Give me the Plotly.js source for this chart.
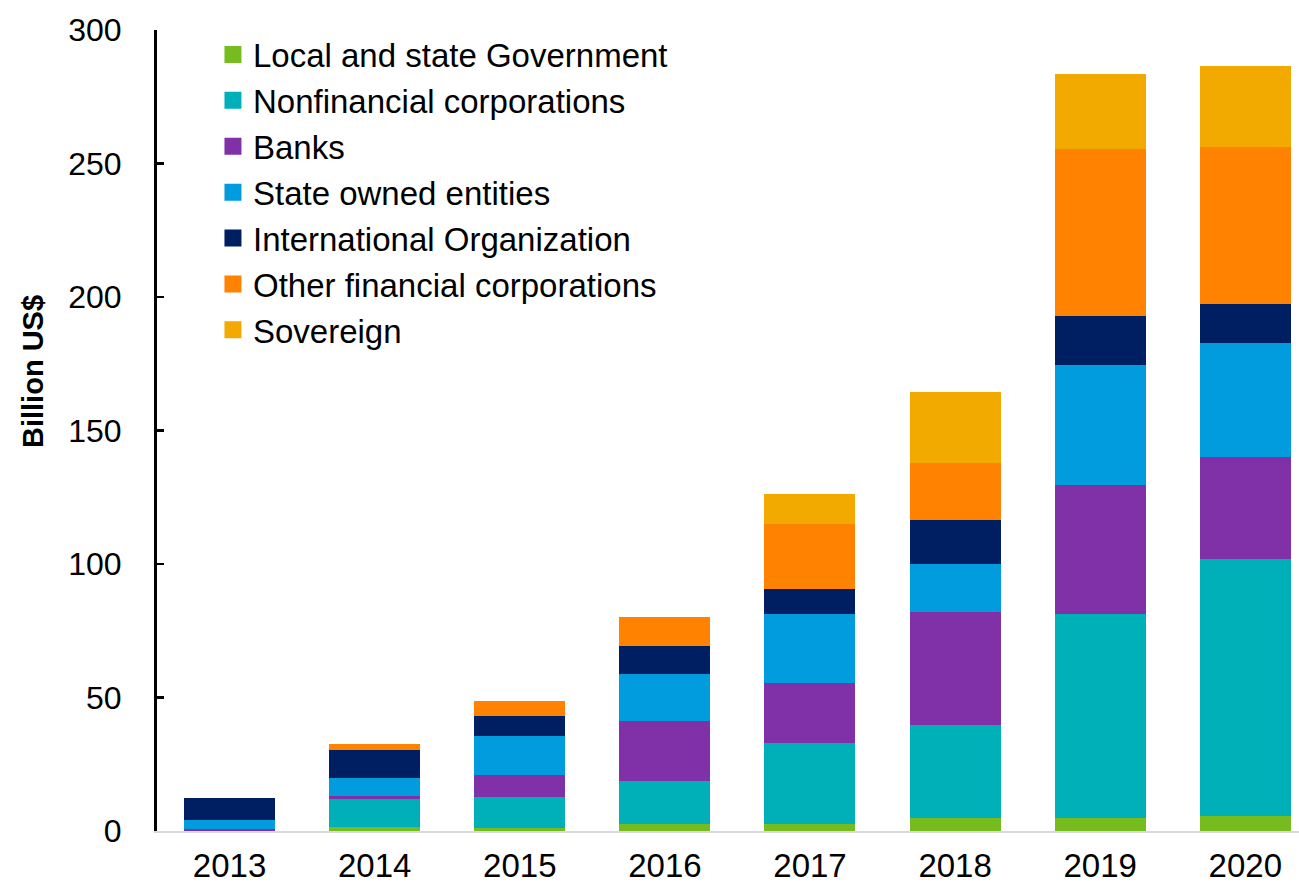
<!DOCTYPE html>
<html>
<head>
<meta charset="utf-8">
<script src="https://cdn.plot.ly/plotly-3.0.1.min.js"></script>
<style>html,body{margin:0;padding:0;background:#fff;}#chart{width:1299px;height:888px;}</style>
</head>
<body>
<div id="chart"></div>
<script>
const years = ['2013','2014','2015','2016','2017','2018','2019','2020'];
const seriesNames = ['Local and state Government','Nonfinancial corporations','Banks','State owned entities','International Organization','Other financial corporations','Sovereign'];
const localGov   = [0,   1.6,  1.0,  2.8,  2.8,  5.0,  5.0,  5.6];
const nonfin     = [0,  10.4, 11.6, 15.8, 30.2, 34.6, 76.3, 96.1];
const banks      = [0.7, 1.2,  8.2, 22.5, 22.5, 42.4, 48.4, 38.4];
const stateOwned = [3.6, 6.5, 14.7, 17.6, 25.8, 18.1, 44.7, 42.5];
const intlOrg    = [7.9,10.5,  7.75,10.5,  9.4, 16.5, 18.6, 14.7];
const otherFin   = [0,   2.25, 5.6, 11.1, 24.2, 21.3, 62.5, 58.9];
const sovereign  = [0,   0,    0,    0,   11.5, 26.4, 28.1, 30.2];
const yTicks = [0, 50, 100, 150, 200, 250, 300];

const values = [localGov, nonfin, banks, stateOwned, intlOrg, otherFin, sovereign];
const colors = ['#77BC1F','#00B0B9','#8031A7','#009CDE','#001E62','#FF8200','#F2A900'];

const traces = [];
values.forEach((v, i) => {
  traces.push({
    type: 'bar', x: years, y: v, name: seriesNames[i],
    marker: {color: colors[i], line: {width: 0}},
    showlegend: false
  });
});
// legend-only entries (no drawn bar, larger swatches)
values.forEach((v, i) => {
  traces.push({
    type: 'bar', x: [years[0]], y: [null], name: seriesNames[i],
    marker: {color: colors[i], line: {width: 5, color: colors[i]}},
    showlegend: true
  });
});

const font = 'Liberation Sans, Arial, sans-serif';
const layout = {
  width: 1299, height: 888,
  margin: {l: 157, r: 0, t: 30, b: 57},
  paper_bgcolor: '#fff', plot_bgcolor: '#fff',
  barmode: 'stack', bargap: 0.373,
  font: {family: font, color: '#000', size: 32},
  showlegend: true,
  legend: {x: 0.049, y: 1.0044, xanchor: 'left', yanchor: 'top', traceorder: 'normal',
           font: {family: font, size: 33, color: '#000'}, bgcolor: 'rgba(0,0,0,0)'},
  xaxis: {type: 'category', categoryorder: 'array', categoryarray: years, range: [-0.5, 7.37],
          showline: true, linecolor: '#d9d9d9', linewidth: 2,
          ticks: '', ticklabelstandoff: 4,
          tickfont: {family: font, size: 33, color: '#000'}, showgrid: false, zeroline: false, fixedrange: true},
  yaxis: {range: [0, 300], tickvals: yTicks, ticktext: yTicks.map(String), showline: true, linecolor: '#000', linewidth: 3,
          ticks: 'inside', ticklen: 7, tickwidth: 2.5, tickcolor: '#000', ticklabelstandoff: 26,
          tickfont: {family: font, size: 32, color: '#000'}, showgrid: false, zeroline: false, fixedrange: true},
  annotations: [{
    text: '<b>Billion US$</b>', textangle: -90, xref: 'paper', yref: 'paper',
    x: (33 - 157) / 1142, y: (831 - 372) / 801, xanchor: 'center', yanchor: 'middle',
    showarrow: false, font: {family: font, size: 29, color: '#000'}
  }]
};

Plotly.newPlot('chart', traces, layout, {displayModeBar: false, staticPlot: true});
</script>
</body>
</html>
